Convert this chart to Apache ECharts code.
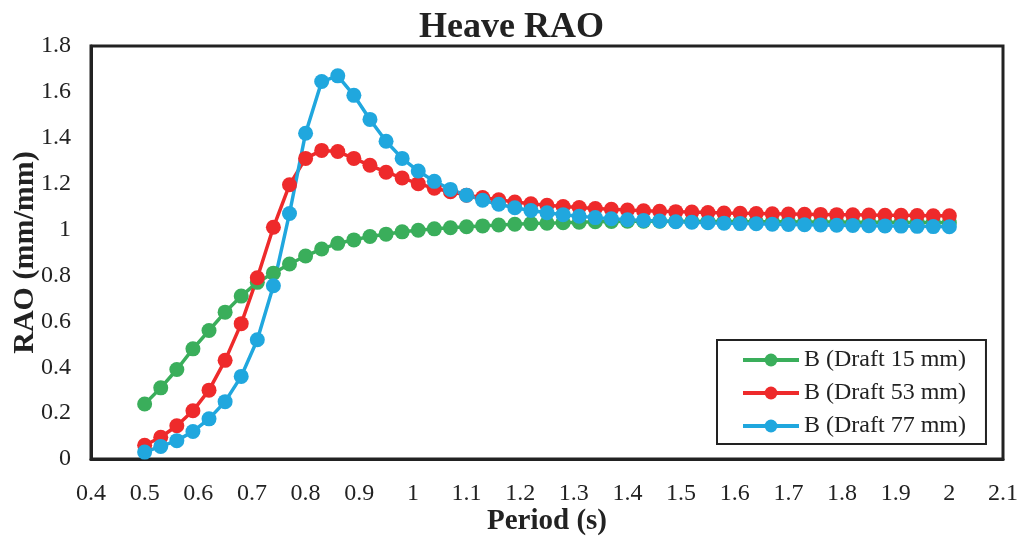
<!DOCTYPE html>
<html>
<head>
<meta charset="utf-8">
<script src="https://cdn.jsdelivr.net/npm/echarts@6/dist/echarts.min.js"></script>
<style>
  html, body { margin: 0; padding: 0; background: #fff; }
  #chart { width: 1023px; height: 536px; }
</style>
</head>
<body>
<div id="chart"></div>
<script>
// Heave RAO - period (s) vs RAO (mm/mm)
var periods = [];
for (var i = 0; i <= 50; i++) { periods.push(+(0.5 + i * 0.03).toFixed(2)); }

var draft15 = [0.24, 0.31, 0.39, 0.48, 0.56, 0.64, 0.71, 0.77, 0.81, 0.85,
  0.885, 0.915, 0.94, 0.955, 0.97, 0.98, 0.99, 0.997, 1.003, 1.008,
  1.012, 1.016, 1.02, 1.023, 1.026, 1.028, 1.03, 1.032, 1.034, 1.035,
  1.036, 1.036, 1.036, 1.036, 1.036, 1.035, 1.035, 1.035, 1.034, 1.034,
  1.034, 1.033, 1.033, 1.033, 1.032, 1.032, 1.032, 1.031, 1.031, 1.031, 1.03];

var draft53 = [0.06, 0.095, 0.145, 0.21, 0.30, 0.43, 0.59, 0.79, 1.01, 1.195,
  1.31, 1.345, 1.34, 1.31, 1.28, 1.25, 1.225, 1.2, 1.18, 1.165,
  1.15, 1.14, 1.13, 1.12, 1.112, 1.106, 1.10, 1.096, 1.092, 1.088,
  1.085, 1.082, 1.08, 1.078, 1.076, 1.074, 1.072, 1.071, 1.07, 1.069,
  1.068, 1.067, 1.066, 1.065, 1.064, 1.063, 1.062, 1.062, 1.061, 1.06, 1.06];

var draft77 = [0.03, 0.055, 0.08, 0.12, 0.175, 0.25, 0.36, 0.52, 0.755, 1.07,
  1.42, 1.645, 1.67, 1.585, 1.48, 1.385, 1.31, 1.255, 1.21, 1.175,
  1.15, 1.128, 1.11, 1.095, 1.083, 1.073, 1.065, 1.058, 1.052, 1.047,
  1.043, 1.04, 1.037, 1.034, 1.032, 1.03, 1.028, 1.026, 1.025, 1.023,
  1.022, 1.021, 1.02, 1.019, 1.018, 1.017, 1.016, 1.015, 1.014, 1.013, 1.012];

var seriesNames = ['B (Draft 15 mm)', 'B (Draft 53 mm)', 'B (Draft 77 mm)'];
var seriesColors = ['#3aae5b', '#ee2a2b', '#20a7de'];
var seriesData = [draft15, draft53, draft77];

function pairs(ys) {
  return periods.map(function (x, k) { return [x, ys[k]]; });
}

var font = '"Liberation Serif", "DejaVu Serif", serif';
var chart = echarts.init(document.getElementById('chart'));

var option = {
  animation: false,
  title: {
    text: 'Heave RAO',
    left: 'center',
    top: 5,
    textStyle: { fontFamily: font, fontSize: 36, fontWeight: 'bold', color: '#222' }
  },
  grid: {
    left: 91, right: 20, top: 46, bottom: 77,
    outerBoundsMode: 'none',
    containLabel: false,
    show: true, borderColor: '#222', borderWidth: 3, backgroundColor: '#fff'
  },
  legend: {
    orient: 'vertical',
    left: 717, top: 340,
    padding: [8, 20, 6, 24],
    itemGap: 9,
    itemWidth: 56, itemHeight: 16,
    borderColor: '#222', borderWidth: 2,
    lineStyle: { width: 4 },
    textStyle: { fontFamily: font, fontSize: 24, color: '#222' },
    data: seriesNames
  },
  xAxis: {
    type: 'value',
    min: 0.4, max: 2.1, interval: 0.1,
    name: 'Period (s)',
    nameLocation: 'middle',
    nameGap: 48,
    nameMoveOverlap: false,
    nameTextStyle: { fontFamily: font, fontSize: 29, fontWeight: 'bold', color: '#222' },
    axisLine: { show: true, lineStyle: { color: '#222', width: 3 } },
    axisTick: { show: false },
    splitLine: { show: false },
    axisLabel: { fontFamily: font, fontSize: 24, color: '#222', margin: 23 }
  },
  yAxis: {
    type: 'value',
    min: 0, max: 1.8, interval: 0.2,
    name: 'RAO (mm/mm)',
    nameLocation: 'middle',
    nameGap: 51,
    nameMoveOverlap: false,
    nameTextStyle: { fontFamily: font, fontSize: 30, fontWeight: 'bold', color: '#222' },
    axisLine: { show: true, lineStyle: { color: '#222', width: 3 } },
    axisTick: { show: false },
    splitLine: { show: false },
    axisLabel: { fontFamily: font, fontSize: 24, color: '#222', margin: 20 }
  },
  series: seriesNames.map(function (name, k) {
    return {
      name: name,
      type: 'line',
      data: pairs(seriesData[k]),
      symbol: 'circle',
      symbolSize: 15,
      color: seriesColors[k],
      lineStyle: { width: 3.5, color: seriesColors[k] },
      itemStyle: { color: seriesColors[k] }
    };
  })
};

chart.setOption(option);
</script>
</body>
</html>
